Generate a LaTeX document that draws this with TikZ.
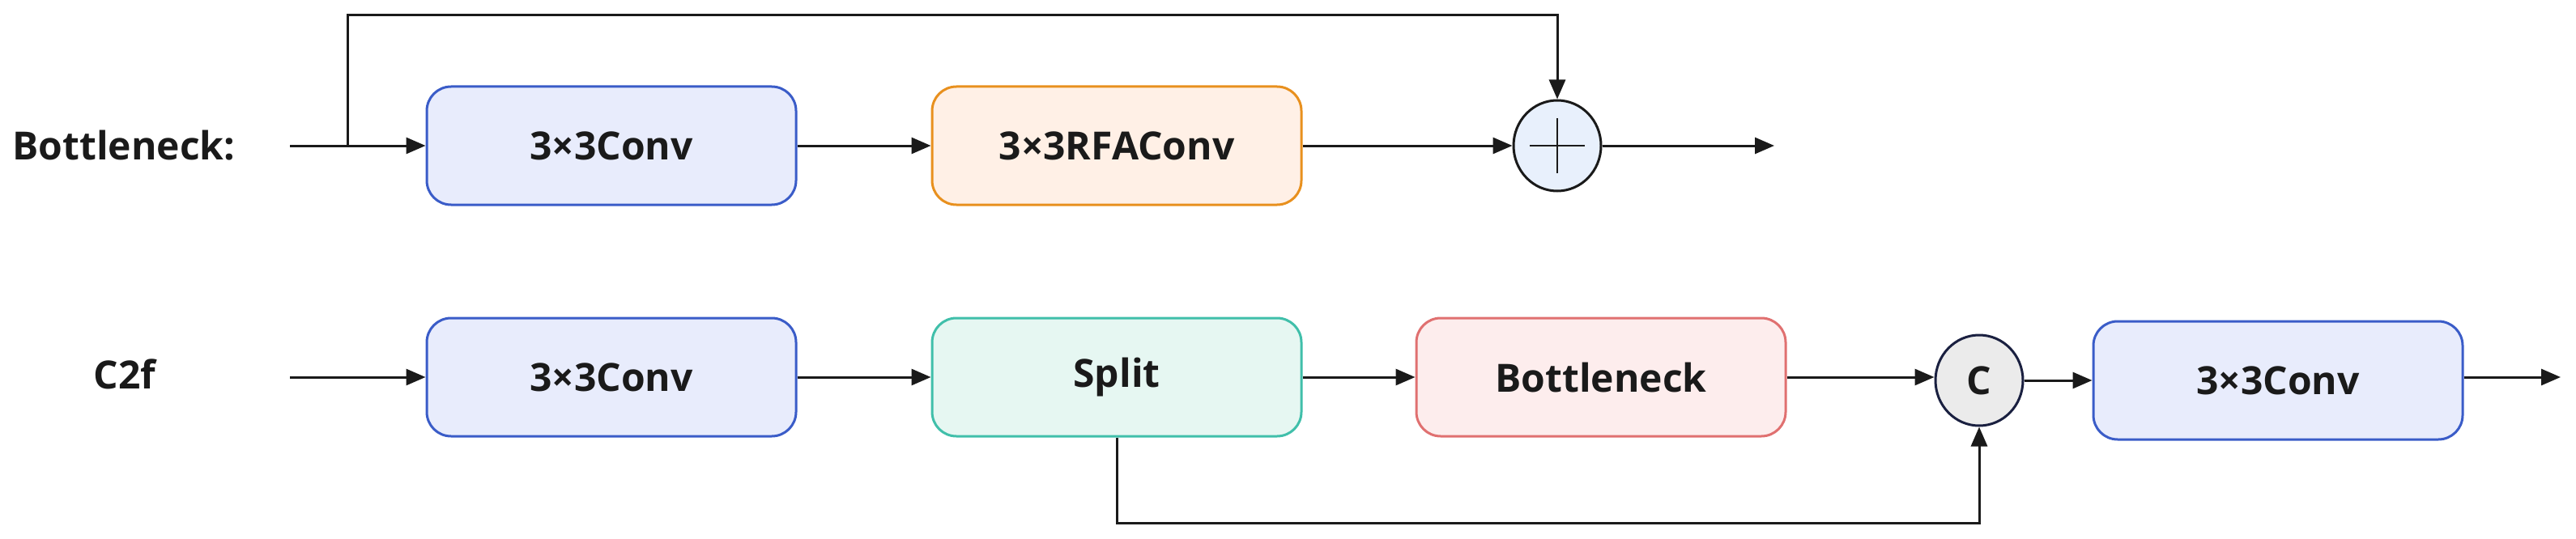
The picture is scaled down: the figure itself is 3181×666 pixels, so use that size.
\documentclass[tikz,border=0pt]{standalone}
\usepackage{fontspec}
\setmainfont{Open Sans}
\usetikzlibrary{arrows.meta,shapes.geometric}
\definecolor{bF}{HTML}{E8ECFC}\definecolor{bD}{HTML}{3A5CC8}
\definecolor{oF}{HTML}{FFF0E6}\definecolor{oD}{HTML}{E8901E}
\definecolor{gF}{HTML}{E6F7F2}\definecolor{gD}{HTML}{40BFAA}
\definecolor{rF}{HTML}{FDEDED}\definecolor{rD}{HTML}{E07070}
\definecolor{pF}{HTML}{E8F0FC}\definecolor{cF}{HTML}{EBEBEB}\definecolor{cD}{HTML}{1A2040}
\definecolor{ln}{HTML}{1A1A1A}
\begin{document}
\begin{tikzpicture}[x=1pt,y=-1pt,
  box/.style={draw,line width=3pt,rounded corners=30pt,minimum width=456pt,minimum height=146pt,inner sep=0pt,
    font=\fontsize{48}{56}\selectfont\bfseries,text=ln},
  circ/.style={ellipse,draw,line width=3pt,minimum width=108pt,minimum height=112pt,inner sep=0pt},
  arr/.style={draw=ln,line width=3pt,-{Triangle[length=24pt,width=20pt]}},
  lin/.style={draw=ln,line width=3pt},
  lab/.style={font=\fontsize{48}{56}\selectfont\bfseries,text=ln}]
\useasboundingbox (0,0) rectangle (3181,666);
% top row
\node[lab] (L1) at (153,180) {Bottleneck:};
\coordinate (in1) at (358,180);
\coordinate (sp1) at (429,180);
\node[box,fill=bF,draw=bD] (c1) at (755,180) {3×3Conv};
\node[box,fill=oF,draw=oD] (r1) at (1379,180) {3×3RFAConv};
\node[circ,fill=pF,draw=ln] (p) at (1923,180) {};
\draw[line width=2.5pt,ln] ([xshift=-34pt]p.center) -- ([xshift=34pt]p.center)
  ([yshift=-34pt]p.center) -- ([yshift=34pt]p.center);
\coordinate (out1) at (2191,180);
\draw[arr] (in1) -- (c1);
\draw[arr] (c1) -- (r1);
\draw[arr] (r1) -- (p);
\draw[arr] (p) -- (out1);
\draw[arr] (sp1) -- (429,19) -| (p.north);
% bottom row
\node[lab] (L2) at (154,462) {C2f};
\coordinate (in2) at (358,466);
\node[box,fill=bF,draw=bD] (c2) at (755,466) {3×3Conv};
\node[box,fill=gF,draw=gD] (s) at (1379,466) {Split};
\node[box,fill=rF,draw=rD] (b) at (1977,466) {Bottleneck};
\node[circ,fill=cF,draw=cD,font=\fontsize{48}{56}\selectfont\bfseries,text=ln] (C) at (2444,470) {C};
\node[box,fill=bF,draw=bD] (c3) at (2813,470) {3×3Conv};
\coordinate (out2) at (3162,466);
\draw[arr] (in2) -- (c2);
\draw[arr] (c2) -- (s);
\draw[arr] (s) -- (b);
\draw[arr] (b.east) -- (C.west |- b.east);
\draw[arr] (C.east) -- (c3.west |- C.east);
\draw[arr] (c3.east |- out2) -- (out2);
\draw[arr] (s.south) -- (s.south |- 0,646) -| (C.south);
\end{tikzpicture}
\end{document}
